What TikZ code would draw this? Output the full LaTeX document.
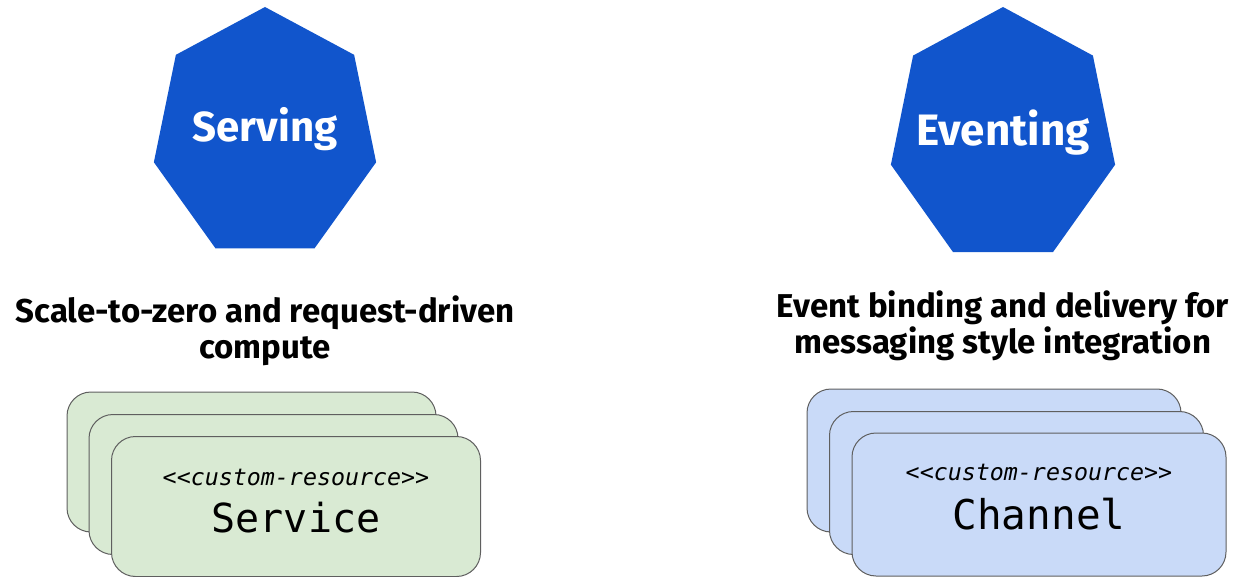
\documentclass[tikz,border=0pt]{standalone}
\usepackage{fontspec}
\setsansfont{Fira Sans}
\setmonofont{DejaVu Sans Mono}
\usepackage{tikz}
\definecolor{knblue}{RGB}{17, 85, 204}
\definecolor{servegreen}{RGB}{217, 234, 211}
\definecolor{eventblue}{RGB}{201, 218, 248}
\definecolor{cardgray}{RGB}{95, 95, 95}

\begin{document}
\begin{tikzpicture}[
			x=1pt, y=-1pt,
			heptagon/.style={fill=knblue},
			herolabel/.style={text=white, anchor=base, inner sep=0pt, font=\sffamily\bfseries\fontsize{42}{42}\selectfont},
			caption/.style={align=center, inner sep=0pt, font=\sffamily\bfseries\fontsize{33}{36}\selectfont},
			card/.style={draw=cardgray, line width=1pt, rectangle, rounded corners=24pt, minimum width=369pt, minimum height=140pt},
			greencard/.style={card, fill=servegreen},
			bluecard/.style={card, fill=eventblue, minimum width=374pt, minimum height=143pt},
			crtag/.style={anchor=base, inner sep=0pt, font=\ttfamily\itshape\fontsize{23.3}{23.3}\selectfont},
			crname/.style={anchor=base, inner sep=0pt, font=\ttfamily\fontsize{40}{40}\selectfont}
			]
			\useasboundingbox (0,0) rectangle (1236,577);
			
			% Serving
			\fill[heptagon, shift={(265,134)}] (-90:114 and 127)
				\foreach \k in {1,...,6} { -- (-90+\k*360/7:114 and 127) } -- cycle;
			\node[herolabel] (serving) at (265,142) {Serving};
			\node[caption] (servingtxt) at (265,331) {
				Scale-to-zero and request-driven \\
				compute
			};
			
			% Service (pila di risorse)
			\node[greencard] (svcback) at (251.5,462) {};
			\node[greencard] (svcmid) at (273.5,484.5) {};
			\node[greencard] (svcfront) at (296,506.5) {};
			\node[crtag] (svctag) at (296,485) {<<custom-resource>>};
			\node[crname] (svcname) at (296,532) {Service};
			
			% Eventing
			\fill[heptagon, shift={(1003,136)}] (-90:115 and 129)
				\foreach \k in {1,...,6} { -- (-90+\k*360/7:115 and 129) } -- cycle;
			\node[herolabel, font=\sffamily\bfseries\fontsize{44}{44}\selectfont] (eventing) at (1003,146) {Eventing};
			\node[caption] (eventingtxt) at (1003,326) {
				Event binding and delivery for \\
				messaging style integration
			};
			
			% Channel (pila di risorse)
			\node[bluecard] (chanback) at (994,460.5) {};
			\node[bluecard] (chanmid) at (1016.5,483) {};
			\node[bluecard] (chanfront) at (1039,504.5) {};
			\node[crtag] (chantag) at (1039,480) {<<custom-resource>>};
			\node[crname, font=\ttfamily\fontsize{41}{41}\selectfont] (channame) at (1039,529) {Channel};
			
		\end{tikzpicture}
\end{document}
